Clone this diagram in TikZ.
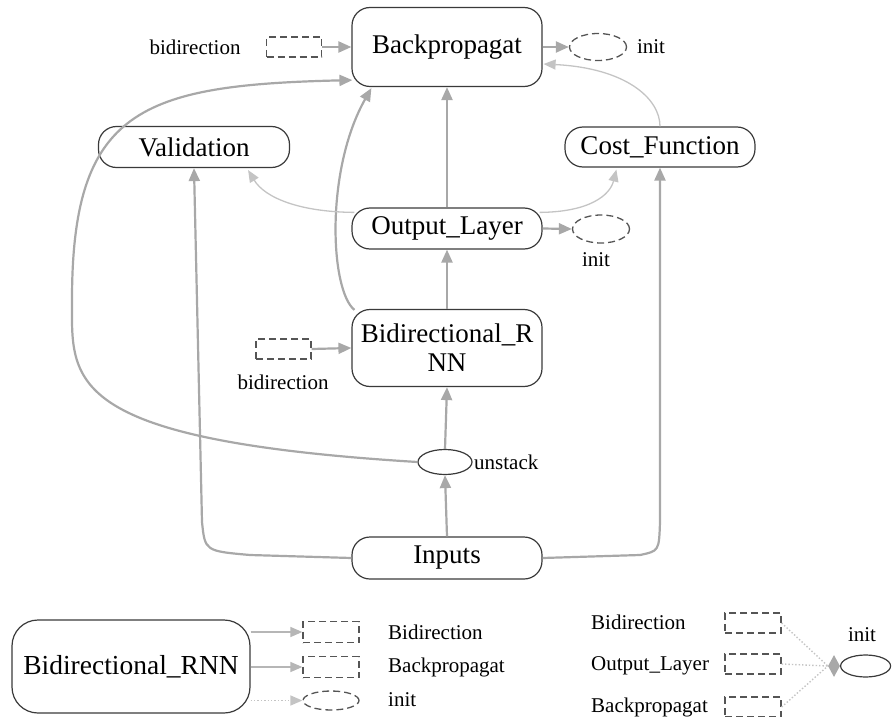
\documentclass[tikz,border=0pt]{standalone}
\usepackage{fontspec}
\setmainfont{Liberation Serif}
\newfontfamily\tnr{Liberation Serif}
\usetikzlibrary{arrows.meta,shapes.geometric,calc}
\definecolor{edgeg}{HTML}{A8A8A8}
\definecolor{lightg}{HTML}{C4C4C4}
\definecolor{bord}{HTML}{3A3A3A}
\definecolor{dashg}{HTML}{555555}
\tikzset{
  bignode/.style={draw=bord, line width=1.2pt, rounded corners=18pt, minimum width=190pt, inner sep=0pt, align=center, font=\tnr\fontsize{27}{29}\selectfont},
  lbl/.style={inner sep=0pt, font=\tnr\fontsize{21}{22}\selectfont},
  dbox/.style={draw=dashg, dash pattern=on 7pt off 4pt, line width=1.3pt, minimum width=55pt, minimum height=20pt, inner sep=0pt},
  dell/.style={ellipse, draw=dashg, dash pattern=on 7pt off 4pt, line width=1.3pt, minimum width=57pt, minimum height=27pt, inner sep=0pt},
  arr/.style={draw=edgeg, line width=2.2pt, -{Triangle[length=13pt,width=11pt]}},
  larr/.style={draw=lightg, line width=1.3pt, -{Triangle[length=12pt,width=10pt]}},
  garr/.style={draw=edgeg, line width=1.4pt, -{Triangle[length=12pt,width=10pt]}},
  darr/.style={draw=lightg, line width=1.4pt, dotted, -{Triangle[length=12pt,width=10pt]}},
  dline/.style={draw=lightg, line width=1.4pt, dotted},
}
\begin{document}
\begin{tikzpicture}[x=1pt,y=-1pt]
\useasboundingbox (0,0) rectangle (892,717);
% main nodes
\node[bignode, minimum height=79pt] (bp) at (447,47) {Backpropagat};
\node[bignode, minimum height=41pt, minimum width=191pt] (val) at (194,147) {Validation};
\node[bignode, minimum height=40pt] (cost) at (660,147) {Cost\_Function};
\node[bignode, minimum height=41pt] (out) at (447,228.5) {Output\_Layer};
\node[bignode, minimum height=77pt] (brnn) at (447,348) {Bidirectional\_R\\NN};
\node[ellipse, draw=bord, line width=1.2pt, minimum width=54pt, minimum height=25pt, inner sep=0pt] (uns) at (445,462) {};
\node[bignode, minimum height=42pt] (inp) at (447,558) {Inputs};
% small items
\node[lbl] (lb1) at (195,47) {bidirection};
\node[dbox] (db1) at (294,47) {};
\node[dell] (de1) at (598,47) {};
\node[lbl] (li1) at (651,47) {init};
\node[dell, minimum height=28pt] (de2) at (601,229) {};
\node[lbl] (li2) at (596,260) {init};
\node[dbox] (db2) at (283.5,349) {};
\node[lbl] (lb2) at (283,382) {bidirection};
\node[lbl, anchor=west] (lu) at (474,462) {unstack};
% edges
\draw[arr] (inp.north) -- (uns.south);
\draw[arr] (uns.north) -- (brnn.south);
\draw[arr] (brnn.north) -- (out.south);
\draw[arr] (out.north) -- (bp.south);
\draw[arr] (db1.east) -- (bp.west);
\draw[arr] (bp.east) -- (de1.west);
\draw[arr] (out.east) -- (de2.west);
\draw[arr] (db2.east) -- (brnn.west);
\draw[arr] (uns.west) .. controls (60,440) and (72,380) .. (72,300) .. controls (72,110) and (140,85) .. ($(bp.south west)+(1,-7)$);
\draw[arr] ($(brnn.north west)+(3,1)$) .. controls (330,290) and (325,170) .. ($(bp.south west)+(20,1)$);
\draw[larr] ($(out.north west)+(3,5)$) .. controls (300,212) and (265,198) .. ($(val.south east)+(-42,2)$);
\draw[larr] ($(out.north east)+(-3,5)$) .. controls (590,212) and (610,195) .. ($(cost.south west)+(52,2)$);
\draw[larr] (cost.north) .. controls (660,98) and (625,68) .. ($(bp.east)+(1,17)$);
\draw[arr] (inp.west) -- (250,555) .. controls (205,551) .. (202,522) -- (val.south);
\draw[arr] (inp.east) -- (640,555) .. controls (659,551) .. (660,522) -- (cost.south);
% legend left
\node[draw=bord, line width=1.2pt, rounded corners=26pt, minimum width=238pt, minimum height=93pt, inner sep=0pt, font=\tnr\fontsize{27.5}{29}\selectfont] (lbr) at (131,666.5) {Bidirectional\_RNN};
\node[dbox, minimum width=56pt, minimum height=21pt] (lr1) at (331,632) {};
\node[dbox, minimum width=56pt, minimum height=21pt] (lr2) at (331,667) {};
\node[dell, minimum width=56pt, minimum height=19pt] (le1) at (331,700.5) {};
\draw[garr, draw=lightg!80!gray] (lbr.east |- lr1) -- (lr1.west);
\draw[garr, draw=lightg!80!gray] (lbr.east |- lr2) -- (lr2.west);
\draw[darr] (lbr.east |- le1) -- (le1.west);
\node[lbl, anchor=west] (ll1) at (388,632) {Bidirection};
\node[lbl, anchor=west] (ll2) at (388,667) {Backpropagat};
\node[lbl, anchor=west] (ll3) at (388,700) {init};
% legend right
\node[lbl, anchor=west] (rl1) at (591,622) {Bidirection};
\node[lbl, anchor=west] (rl2) at (591,666) {Output\_Layer};
\node[lbl, anchor=west] (rl3) at (591,707) {Backpropagat};
\node[dbox, minimum width=56pt] (rr1) at (753,623) {};
\node[dbox, minimum width=56pt] (rr2) at (753,664) {};
\node[dbox, minimum width=56pt] (rr3) at (753,707) {};
\node[diamond, fill=edgeg, draw=none, minimum width=12pt, minimum height=22pt, inner sep=0pt, aspect=0.55] (dia) at (834,666) {};
\node[ellipse, draw=bord, line width=1.2pt, minimum width=50pt, minimum height=22pt, inner sep=0pt, anchor=west] (rel) at (840,666) {};
\node[lbl] (rli) at (862,635) {init};
\draw[dline] (rr1.east) -- (dia.west);
\draw[dline] (rr2.east) -- (dia.west);
\draw[dline] (rr3.east) -- (dia.west);
\end{tikzpicture}
\end{document}
